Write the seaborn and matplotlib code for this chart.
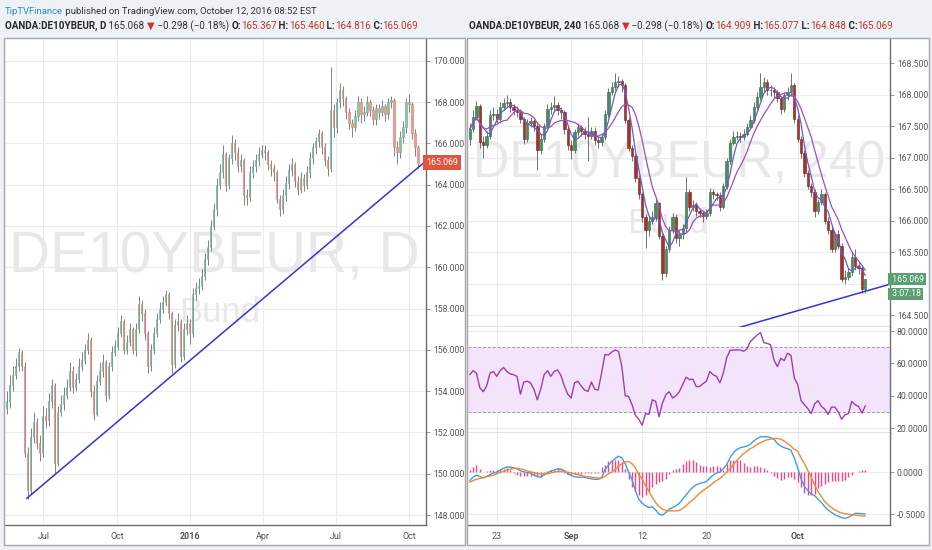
import numpy as np
import pandas as pd
import seaborn as sns
import matplotlib
matplotlib.use("Agg")
import matplotlib.pyplot as plt
import matplotlib.ticker as ticker
import matplotlib.transforms as mtransforms
from matplotlib.patches import Rectangle

# ---------------- daily chart (left) ----------------
left_start, left_end = "2015-05-16", "2016-10-12"
left_first_open = 153.2
left_close = [
    153.5, 154.3, 154.8, 155.2, 155.9, 155.2, 151.0, 149.2, 151.8, 152.5,
    151.5, 151.0, 152.8, 152.6, 153.5, 154.3, 150.5, 153.0, 153.4, 153.8,
    154.2, 155.0, 154.2, 154.6, 155.2, 155.5, 156.0, 156.5, 154.0, 152.9,
    154.5, 155.0, 155.4, 153.8, 155.2, 155.9, 156.2, 156.8, 157.4, 156.0,
    156.4, 157.0, 156.0, 157.0, 158.2, 157.8, 156.8, 155.2, 156.0, 156.8,
    157.5, 158.0, 158.3, 158.7, 157.8, 155.3, 157.2, 157.4, 155.7, 157.0,
    157.3, 156.8, 158.7, 159.0, 159.1, 159.6, 160.4, 161.0, 162.0, 162.8,
    164.0, 164.6, 165.5, 164.0, 165.3, 166.0, 165.6, 164.9, 165.2, 163.5,
    163.4, 164.6, 164.9, 165.2, 165.5, 165.7, 165.6, 165.0, 164.8, 164.6,
    163.3, 162.8, 163.5, 164.1, 164.7, 165.0, 164.2, 163.8, 164.3, 164.0,
    164.6, 165.3, 165.8, 166.1, 166.5, 165.8, 165.2, 164.8, 167.6, 166.8,
    168.0, 168.6, 168.2, 167.5, 167.0, 166.8, 167.3, 168.0, 167.4, 167.5,
    168.0, 167.6, 167.2, 167.7, 167.5, 167.8, 167.4, 168.0, 168.1, 165.8,
    165.6, 166.3, 166.8, 168.0, 167.9, 166.5, 165.8, 165.07]
left_high = [
    154.0, 154.8, 155.2, 155.6, 156.1, 156.0, 155.4, 151.3, 152.2, 153.0,
    152.7, 151.9, 153.3, 153.2, 153.9, 154.6, 154.4, 153.3, 153.8, 154.2,
    154.6, 155.4, 155.2, 154.9, 155.6, 155.9, 156.3, 156.8, 156.6, 154.3,
    154.8, 155.4, 155.8, 155.5, 155.4, 156.2, 156.5, 157.1, 157.7, 157.5,
    156.7, 157.3, 157.1, 157.3, 158.6, 158.4, 158.0, 156.9, 156.3, 157.1,
    157.8, 158.3, 158.6, 158.9, 158.8, 157.9, 157.5, 157.8, 157.5, 157.3,
    157.7, 157.5, 159.0, 159.3, 159.5, 159.9, 160.7, 161.3, 162.3, 163.1,
    164.3, 165.0, 165.9, 165.6, 165.5, 166.4, 166.2, 165.8, 165.5, 165.3,
    163.8, 164.9, 165.2, 165.5, 165.8, 165.9, 165.9, 165.7, 165.2, 165.0,
    164.7, 163.5, 163.8, 164.4, 165.0, 165.3, 165.1, 164.4, 164.6, 164.5,
    164.9, 165.6, 166.0, 166.3, 166.7, 166.6, 166.0, 165.4, 169.7, 167.9,
    168.2, 168.9, 168.8, 168.3, 167.7, 167.2, 167.6, 168.3, 168.2, 167.8,
    168.3, 168.1, 167.8, 167.9, 167.9, 168.1, 167.9, 168.2, 168.3, 168.2,
    166.1, 166.6, 167.1, 168.2, 168.4, 168.0, 166.7, 165.9]
left_low = [
    152.9, 153.2, 154.0, 154.6, 155.0, 155.0, 150.8, 148.8, 149.0, 151.5,
    151.2, 150.6, 150.8, 152.2, 152.3, 153.2, 150.0, 150.4, 152.8, 153.1,
    153.6, 154.0, 153.9, 154.0, 154.4, 155.0, 155.3, 155.8, 153.7, 152.6,
    152.8, 154.3, 154.7, 153.5, 153.6, 155.0, 155.7, 156.0, 156.6, 155.8,
    155.8, 156.2, 155.8, 155.7, 156.8, 157.4, 156.5, 154.9, 155.0, 155.8,
    156.6, 157.3, 157.8, 158.1, 157.5, 154.9, 155.1, 156.9, 155.4, 155.5,
    156.7, 156.3, 156.6, 158.4, 158.7, 158.9, 159.4, 160.1, 160.8, 161.8,
    162.5, 163.8, 164.3, 163.7, 163.8, 165.0, 165.2, 164.6, 164.6, 163.0,
    163.0, 163.2, 164.3, 164.6, 164.9, 165.3, 165.2, 164.7, 164.4, 164.2,
    163.1, 162.5, 162.6, 163.2, 163.8, 164.4, 163.9, 163.5, 163.6, 163.7,
    163.8, 164.3, 165.0, 165.5, 165.8, 165.5, 164.9, 164.4, 164.6, 166.3,
    166.5, 167.7, 167.8, 167.2, 166.7, 166.3, 166.6, 167.1, 167.0, 167.1,
    167.3, 167.3, 166.9, 166.9, 167.2, 167.3, 167.1, 167.2, 167.7, 165.4,
    165.0, 165.3, 166.0, 166.5, 167.5, 166.2, 165.4, 164.8]
left_tick_dates = ["2015-07-01", "2015-10-01", "2016-01-01", "2016-04-01", "2016-07-01", "2016-10-01"]
left_tick_labels = ["Jul", "Oct", "2016", "Apr", "Jul", "Oct"]
left_trend_dates = ["2015-06-10", "2016-10-22"]
left_trend_values = [148.8, 165.15]

# ---------------- 4h chart (right) ----------------
right_first_open = 167.30
right_close = [
    167.45, 167.65, 167.82, 167.25, 167.20, 167.35, 167.68, 167.70, 167.62, 167.80,
    167.86, 167.88, 167.80, 167.76, 167.72, 167.62, 167.30, 167.55, 167.58, 167.50,
    167.12, 167.30, 167.50, 167.78, 167.80, 167.83, 167.75, 167.72, 167.45, 167.20,
    167.12, 167.40, 167.48, 167.42, 167.38, 167.35, 167.42, 167.28, 167.25, 167.32,
    167.70, 168.05, 168.12, 168.20, 168.22, 168.15, 167.60, 167.15, 167.02, 166.68,
    166.42, 166.05, 165.85, 166.00, 166.05, 166.28, 165.75, 165.17, 165.55, 165.85,
    166.05, 165.72, 165.78, 165.88, 166.45, 166.22, 166.25, 166.15, 166.12, 166.08,
    166.12, 166.45, 166.42, 166.40, 166.22, 166.55, 166.95, 167.23, 167.33, 167.35,
    167.32, 167.38, 167.48, 167.60, 167.80, 167.96, 168.12, 168.20, 168.07, 168.08,
    168.05, 167.95, 167.78, 168.00, 168.05, 168.15, 167.62, 167.30, 167.08, 166.75,
    166.55, 166.45, 166.15, 166.30, 166.43, 166.00, 165.85, 165.55, 165.78, 165.60,
    165.08, 165.10, 165.18, 165.42, 165.28, 165.25, 164.92, 165.069]
right_high = [
    167.55, 167.75, 167.90, 167.85, 167.35, 167.42, 167.75, 167.80, 167.78, 167.88,
    167.95, 168.00, 167.95, 167.85, 167.82, 167.78, 167.65, 167.62, 167.65, 167.62,
    167.55, 167.38, 167.55, 167.85, 167.88, 167.98, 167.88, 167.80, 167.75, 167.50,
    167.28, 167.45, 167.55, 167.52, 167.48, 167.65, 167.48, 167.48, 167.35, 167.38,
    167.75, 168.10, 168.20, 168.34, 168.30, 168.25, 168.18, 167.65, 167.20, 167.05,
    166.72, 166.45, 166.10, 166.08, 166.15, 166.35, 166.30, 165.80, 165.60, 165.92,
    166.12, 166.10, 165.85, 165.95, 166.70, 166.50, 166.32, 166.30, 166.20, 166.15,
    166.18, 166.52, 166.50, 166.46, 166.45, 166.60, 167.00, 167.30, 167.42, 167.42,
    167.40, 167.45, 167.55, 167.68, 167.88, 168.05, 168.34, 168.28, 168.25, 168.15,
    168.12, 168.08, 167.98, 168.05, 168.12, 168.34, 168.18, 167.68, 167.35, 167.12,
    166.80, 166.60, 166.50, 166.35, 166.50, 166.45, 166.05, 165.90, 165.82, 165.85,
    165.65, 165.22, 165.25, 165.52, 165.55, 165.35, 165.28, 165.077]
right_low = [
    167.20, 167.40, 167.60, 167.15, 167.00, 167.15, 167.30, 167.60, 167.55, 167.55,
    167.75, 167.80, 167.72, 167.68, 167.65, 167.55, 167.22, 167.25, 167.48, 167.42,
    166.80, 167.05, 167.25, 167.45, 167.70, 167.72, 167.68, 167.62, 167.38, 167.12,
    166.98, 167.08, 167.35, 167.35, 167.30, 166.95, 167.30, 167.20, 167.15, 167.18,
    167.28, 167.65, 168.00, 168.08, 168.12, 168.05, 167.55, 167.10, 166.95, 166.62,
    166.35, 165.98, 165.56, 165.75, 165.95, 166.00, 165.70, 165.06, 165.10, 165.50,
    165.80, 165.65, 165.60, 165.70, 165.82, 166.15, 166.15, 166.08, 166.05, 165.98,
    166.02, 166.08, 166.35, 166.32, 166.15, 166.18, 166.50, 166.90, 167.20, 167.28,
    167.25, 167.28, 167.35, 167.45, 167.55, 167.75, 167.92, 168.05, 168.00, 167.98,
    167.95, 167.88, 167.70, 167.72, 167.92, 167.98, 167.55, 167.25, 167.00, 166.70,
    166.50, 166.38, 166.05, 166.10, 166.25, 165.95, 165.78, 165.50, 165.50, 165.55,
    165.02, 165.00, 165.05, 165.12, 165.22, 165.15, 164.85, 164.848]
rsi_values = [
    53, 55.5, 54, 45, 42.5, 46, 54, 55, 52, 55.5,
    57.5, 55, 53.5, 53, 52, 41, 48.5, 49, 48, 44,
    37.5, 44, 53, 55.5, 52, 55, 56, 52.5, 46, 41,
    38.6, 48, 49, 46, 43.5, 42.7, 48.5, 44, 43.5, 54,
    65.5, 65.2, 67, 68.3, 67.5, 58, 40, 39.6, 34.5, 28,
    25.5, 21.8, 29, 28.5, 37.5, 36.5, 27, 35.5, 40.6, 42.5,
    38.6, 40, 42.5, 47, 51.5, 50, 50.3, 45.7, 45.7, 47.5,
    49, 55, 53, 52, 48, 54, 63.5, 68, 68.3, 68.3,
    68.3, 67.5, 69, 73.5, 75.5, 77.5, 79, 72.8, 72.4, 71.5,
    62, 58, 63.2, 61.7, 66.3, 65, 51, 47, 37, 34.5,
    32, 29, 35, 37, 33.4, 31.8, 28.5, 33, 33, 30,
    25.5, 28.3, 29, 36.5, 34.5, 33.4, 29.3, 33.8]
macd_values = [
    -0.10, -0.06, -0.035, -0.05, -0.07, -0.05, -0.03, -0.01, 0.00, 0.025,
    0.045, 0.06, 0.06, 0.05, 0.04, 0.015, 0.005, -0.005, -0.01, -0.035,
    -0.05, -0.06, -0.03, -0.01, 0.015, 0.025, 0.04, 0.035, 0.02, -0.02,
    -0.04, -0.055, -0.06, -0.06, -0.06, -0.07, -0.08, -0.085, -0.085, -0.07,
    0.03, 0.08, 0.13, 0.16, 0.19, 0.17, 0.10, 0.00, -0.09, -0.22,
    -0.32, -0.37, -0.40, -0.42, -0.41, -0.45, -0.50, -0.51, -0.48, -0.44,
    -0.42, -0.40, -0.37, -0.32, -0.27, -0.22, -0.18, -0.15, -0.135, -0.125,
    -0.11, -0.07, -0.035, -0.01, 0.00, 0.04, 0.09, 0.17, 0.23, 0.27,
    0.29, 0.30, 0.31, 0.33, 0.37, 0.40, 0.42, 0.42, 0.42, 0.41,
    0.39, 0.34, 0.31, 0.29, 0.28, 0.26, 0.17, 0.05, -0.08, -0.17,
    -0.22, -0.26, -0.28, -0.32, -0.36, -0.41, -0.45, -0.48, -0.505, -0.525,
    -0.54, -0.55, -0.535, -0.515, -0.49, -0.49, -0.495, -0.495]
signal_values = [
    -0.12, -0.10, -0.085, -0.075, -0.065, -0.055, -0.045, -0.035, -0.02, -0.005,
    0.01, 0.025, 0.035, 0.045, 0.047, 0.04, 0.03, 0.015, 0.005, -0.005,
    -0.015, -0.02, -0.02, -0.02, -0.01, 0.00, 0.008, 0.01, 0.005, 0.00,
    -0.01, -0.02, -0.03, -0.04, -0.05, -0.055, -0.06, -0.065, -0.07, -0.07,
    -0.05, -0.02, 0.00, 0.03, 0.07, 0.10, 0.12, 0.125, 0.10, 0.05,
    -0.03, -0.08, -0.16, -0.23, -0.30, -0.36, -0.41, -0.44, -0.455, -0.46,
    -0.46, -0.46, -0.455, -0.43, -0.40, -0.36, -0.33, -0.29, -0.25, -0.22,
    -0.19, -0.16, -0.13, -0.10, -0.075, -0.04, 0.00, 0.04, 0.09, 0.14,
    0.18, 0.22, 0.25, 0.28, 0.30, 0.33, 0.35, 0.37, 0.385, 0.39,
    0.40, 0.40, 0.39, 0.37, 0.34, 0.31, 0.27, 0.25, 0.17, 0.10,
    0.02, -0.06, -0.15, -0.23, -0.29, -0.35, -0.39, -0.42, -0.45, -0.47,
    -0.485, -0.495, -0.50, -0.505, -0.51, -0.515, -0.52, -0.52]
hist_values = [
    0.02, 0.06, 0.08, 0.04, 0.0, 0.01, 0.02, 0.03, 0.03, 0.035,
    0.04, 0.047, 0.03, -0.01, -0.03, -0.04, -0.04, -0.045, -0.04, -0.05,
    -0.06, -0.055, -0.03, 0.01, 0.025, 0.03, 0.045, 0.03, -0.01, -0.02,
    -0.03, -0.025, -0.02, -0.02, -0.015, -0.015, -0.01, -0.01, -0.005, 0.06,
    0.09, 0.13, 0.14, 0.15, 0.14, 0.12, 0.04, -0.08, -0.18, -0.23,
    -0.27, -0.29, -0.27, -0.23, -0.18, -0.14, -0.12, -0.10, -0.08, -0.02,
    0.02, 0.04, 0.045, 0.10, 0.13, 0.14, 0.14, 0.12, 0.08, 0.07,
    0.075, 0.065, 0.07, 0.075, 0.06, 0.02, 0.10, 0.14, 0.15, 0.15,
    0.14, 0.11, 0.07, 0.065, 0.07, 0.07, 0.065, 0.05, 0.02, -0.01,
    -0.05, -0.07, -0.09, -0.08, -0.06, -0.06, -0.08, -0.12, -0.18, -0.25,
    -0.27, -0.27, -0.26, -0.19, -0.16, -0.14, -0.12, -0.10, -0.10, -0.10,
    -0.10, -0.09, -0.06, -0.03, 0.0, 0.01, 0.02, 0.02]
right_tick_bars = [8, 30, 51, 70, 97]
right_tick_labels = ["23", "Sep", "12", "20", "Oct"]
right_trend_bars = [75, 124.3]
right_trend_values = [164.23, 164.99]

last_price = 165.069
hidden_price_tick = 165.0  # sits under the last-price labels

# ---------------- figure ----------------
sns.set_theme(style="white")
plt.rcParams["font.family"] = ["Roboto", "DejaVu Sans"]

W, H = 932, 550
fig = plt.figure(figsize=(W / 100, H / 100), dpi=100, facecolor="#eef1f5")
renderer = fig.canvas.get_renderer()


def box(x0, y0, x1, y1):
    return [x0 / W, 1 - y1 / H, (x1 - x0) / W, (y1 - y0) / H]


for x0, x1 in [(4, 465), (467, 929)]:
    fig.patches.append(Rectangle((x0 / W, 1 - 545 / H), (x1 - x0) / W, 507 / H,
                                 transform=fig.transFigure, fc="white", ec="none", zorder=-5))

axL = fig.add_axes(box(5, 38, 426, 525))
axP = fig.add_axes(box(468, 38, 890, 327))
axR = fig.add_axes(box(468, 327, 890, 433), sharex=axP)
axM = fig.add_axes(box(468, 433, 890, 525), sharex=axP)

for x0, x1 in [(4, 465), (467, 929)]:
    fig.patches.append(Rectangle((x0 / W, 1 - 545 / H), (x1 - x0) / W, 507 / H,
                                 transform=fig.transFigure, fill=False, ec="#a8a8a8", lw=1, zorder=10))


def candles(ax, x, first_open, close, high, low, width, up, down, up_edge, down_edge, wick, wlw, min_h):
    close = np.asarray(close)
    opens = np.concatenate([[first_open], close[:-1]])
    rising = close >= opens
    ax.vlines(x, low, high, colors=wick, linewidth=wlw, zorder=2)
    ax.bar(x, np.maximum(np.abs(close - opens), min_h), bottom=np.minimum(opens, close), width=width,
           color=np.where(rising, up, down), edgecolor=np.where(rising, up_edge, down_edge),
           linewidth=0.4, zorder=3)


def style_axis(ax, fmt, yticks):
    ax.set_facecolor("white")
    ax.yaxis.tick_right()
    ax.set_yticks(yticks)
    ax.yaxis.set_major_formatter(ticker.FormatStrFormatter(fmt))
    ax.tick_params(axis="y", length=3, width=0.6, color="#888888", labelsize=6.2, labelcolor="#555555", pad=2)
    ax.tick_params(axis="x", length=3, width=0.6, color="#888888", labelsize=6.5, labelcolor="#555555", pad=2)
    ax.grid(True, color="#ececec", linewidth=0.8)
    ax.set_axisbelow(True)
    for side in ["top", "left"]:
        ax.spines[side].set_visible(False)
    for side in ["right", "bottom"]:
        ax.spines[side].set_color("#6f6f6f")
        ax.spines[side].set_linewidth(1)
    ax.set_xlabel("")
    ax.set_ylabel("")


# ----- left daily -----
left_dates = pd.date_range(left_start, left_end, periods=len(left_close))
candles(axL, left_dates, left_first_open, left_close, left_high, left_low, 1.4,
        "#8cc2a8", "#eb9d94", "#6aa88a", "#d27a70", "#6e6e6e", 0.6, 0.06)
axL.plot(pd.to_datetime(left_trend_dates), left_trend_values, color="#3434d4", lw=1.1, zorder=4)
axL.set_xlim(pd.Timestamp("2015-05-14"), pd.Timestamp("2016-10-22"))
axL.set_ylim(147.52, 171.1)
style_axis(axL, "%.3f", np.arange(148, 171, 2))
axL.set_xticks(pd.to_datetime(left_tick_dates))
axL.set_xticklabels(left_tick_labels)
for lab in axL.get_xticklabels():
    if lab.get_text() == "2016":
        lab.set_fontweight("bold")

wm_font = ["Liberation Sans", "DejaVu Sans"]


def watermark(ax, x, y, s, size, target_w=None):
    t = ax.text(x, y, s, transform=ax.transAxes, ha="center", va="baseline", fontsize=size,
                color="#e8e8e8", family=wm_font, zorder=1)
    if target_w:
        w = t.get_window_extent(renderer).width
        t.set_fontsize(size * target_w / w)
    return t


watermark(axL, 0.4976, 0.5175, "DE10YBEUR, D", 40, 410)
watermark(axL, 0.51, 0.417, "Bund", 25)

axL.text(1.0, last_price, "165.069", transform=mtransforms.blended_transform_factory(axL.transAxes, axL.transData),
         ha="left", va="center", fontsize=6.3, color="white", clip_on=False, zorder=6,
         bbox=dict(boxstyle="square,pad=0.35", fc="#e0553f", ec="none"))

# ----- right 4h -----
idx = np.arange(len(right_close))
candles(axP, idx, right_first_open, right_close, right_high, right_low, 0.7,
        "#4a8c60", "#a3322a", "#2f6b45", "#7a1f18", "#707070", 0.7, 0.012)
fast_ma = pd.Series(right_close).rolling(4, min_periods=1).mean()
slow_ma = pd.Series(right_close).rolling(9, min_periods=1).mean()
sns.lineplot(x=idx, y=fast_ma.values, ax=axP, color="#6a5acd", linewidth=0.9, zorder=4)
sns.lineplot(x=idx, y=slow_ma.values, ax=axP, color="#9b4fc4", linewidth=0.9, zorder=4)
axP.plot(right_trend_bars, right_trend_values, color="#3434d4", lw=1.1, zorder=4)
axP.set_ylim(164.31, 168.9)
axP.set_xlim(-0.5, 124.3)
style_axis(axP, "%.3f", np.arange(164.5, 168.51, 0.5))
axP.yaxis.set_major_formatter(ticker.FuncFormatter(
    lambda v, pos: "" if abs(v - hidden_price_tick) < 1e-6 else "%.3f" % v))
axP.tick_params(axis="x", labelbottom=False, length=0)

watermark(axP, 0.499, 0.519, "DE10YBEUR, 240", 40, 412)
watermark(axP, 0.473, 0.325, "Bund", 25)

bt = mtransforms.blended_transform_factory(axP.transAxes, axP.transData)
axP.text(1.0, last_price, " 165.069", transform=bt, ha="left", va="center", fontsize=6.3, color="white",
         clip_on=False, zorder=6, bbox=dict(boxstyle="square,pad=0.18", fc="#5a9e72", ec="none"))
axP.annotate(" 3:07:18", xy=(1.0, last_price), xytext=(0, -10.5), xycoords=bt, textcoords="offset points",
             ha="left", va="center", fontsize=6.3, color="white", annotation_clip=False, zorder=6,
             bbox=dict(boxstyle="square,pad=0.18", fc="#5a9e72", ec="none"))

# RSI
axR.axhspan(30, 70, color="#f3e4fc", zorder=0)
axR.axhline(30, color="#a0a0a0", lw=0.7, ls=(0, (3, 2)), zorder=1)
axR.axhline(70, color="#a0a0a0", lw=0.7, ls=(0, (3, 2)), zorder=1)
sns.lineplot(x=idx, y=rsi_values, ax=axR, color="#9c3fb5", linewidth=1.0, zorder=3)
axR.set_ylim(17, 82.5)
style_axis(axR, "%.4f", [20, 40, 60, 80])
axR.tick_params(axis="x", labelbottom=False, length=0)

# MACD
axM.vlines(idx, 0, hist_values, colors="#f0478a", linewidth=1.0, zorder=2)
sns.lineplot(x=idx, y=macd_values, ax=axM, color="#3d9fe3", linewidth=1.0, zorder=3)
sns.lineplot(x=idx, y=signal_values, ax=axM, color="#f28a30", linewidth=1.0, zorder=3)
axM.set_ylim(-0.628, 0.465)
style_axis(axM, "%.4f", [-0.5, 0.0])
axM.set_xticks(right_tick_bars)
axM.set_xticklabels(right_tick_labels)
for lab in axM.get_xticklabels():
    if lab.get_text() in ("Sep", "Oct"):
        lab.set_fontweight("bold")
axM.set_xlim(-0.5, 124.3)
for ax in (axP, axR, axM):
    ax.set_xlabel("")
    ax.set_ylabel("")

# ----- header texts -----
DARK = "#2a2a2a"
RED = "#c0392b"


def header(x_px, y_px, pieces, target_w, size=7.0):
    def draw(sz):
        arts, x = [], x_px
        for s, col, bold in pieces:
            t = fig.text(x / W, 1 - y_px / H, s, color=col, fontsize=sz,
                         fontweight="bold" if bold else "normal", ha="left", va="center")
            x += t.get_window_extent(renderer).width
            arts.append(t)
        return arts, x - x_px
    arts, w = draw(size)
    for a in arts:
        a.remove()
    draw(size * target_w / w)


header(5, 11, [("TipTVFinance", "#2b8ccf", False),
               (" published on TradingView.com, October 12, 2016 08:52 EST", "#333333", False)], 313)


def ohlc_pieces(name, o, h, l, c):
    return [(name, DARK, True), (" 165.068 ", "#333333", False), ("▼", "#d0312d", False),
            (" \u22120.298 (\u22120.18%) ", "#333333", False),
            ("O:", DARK, True), (o, RED, False), (" H:", DARK, True), (h, RED, False),
            (" L:", DARK, True), (l, RED, False), (" C:", DARK, True), (c, RED, False)]


header(5, 26, ohlc_pieces("OANDA:DE10YBEUR, D", "165.367", "165.460", "164.816", "165.069"), 415)
header(469, 26, ohlc_pieces("OANDA:DE10YBEUR, 240", "164.909", "165.077", "164.848", "165.069"), 425)

fig.savefig("out.png", dpi=100, facecolor=fig.get_facecolor())
